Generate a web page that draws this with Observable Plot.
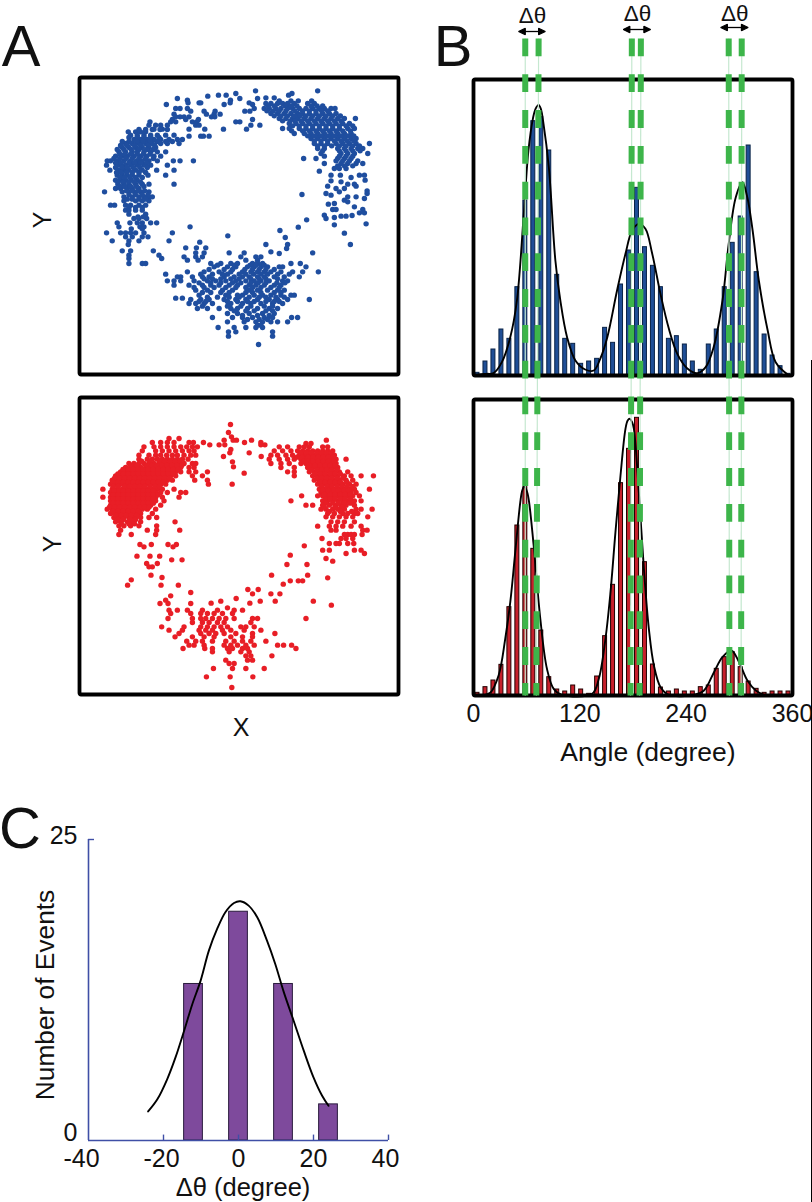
<!DOCTYPE html>
<html><head><meta charset="utf-8">
<script src="https://cdn.jsdelivr.net/npm/d3@7"></script>
<script src="https://cdn.jsdelivr.net/npm/@observablehq/plot@0.6"></script>
<style>
html,body{margin:0;padding:0;background:#fff;}
#page{position:relative;width:812px;height:1202px;overflow:hidden;font-family:"Liberation Sans",Arial,sans-serif;color:#111;}
#page svg{position:absolute;overflow:visible;background:transparent;}
.lab{position:absolute;white-space:nowrap;line-height:1;transform:translate(-50%,-50%);}
</style></head><body><div id="page"></div>
<script>
// ---------- Panel A: scatter rows, each [y, [x, x, ...]] in arbitrary image units
const blueArcSparse = [[92,[584,770]],[100,[525,693]],[105,[473,496,683]],[108,[441]],[115,[350,537,590]],[120,[380,509]],[128,[382,415,420,508,565]],[133,[317,490,575]],[145,[345,358,380,580]],[153,[390,430,463,552,567]],[162,[340,437,460,478]],[170,[345,385,358,452,462,370]],[178,[335,375,413,575]],[185,[268,330,345,395,408,525,537]],[195,[265,285,300,320,405,415,597,570]],[207,[280,305,385,432,488,557]],[228,[420,428,445,385]]];
const blueLeft = [[215,[203,225,240,255]],[225,[210,230,250,270,290,315,340]],[238,[220,240,260,280,300,325,350,365]],[250,[195,215,235,255,275,300,320,355]],[262,[185,205,225,245,265,285]],[275,[175,195,215,230,250,270,290,315]],[288,[165,185,200,220,240,258,280,300]],[302,[140,150,170,190,210,228,245,265,290,338,358,398]],[315,[138,175,195,212,230,250,270,320]],[330,[148,175,190,205,225,245,288,340]],[345,[170,185,200,215,235,262,315]],[360,[165,180,195,212,230]],[372,[172,190,205,225,245,265,340]],[385,[165,180,200,215,235]],[395,[132,185,205,222,240,265]],[410,[190,215,235,250,265,275]],[422,[190,225,245,265]],[435,[150,162,195,210,235,255]],[450,[195,205,225,245]],[462,[205,255]],[475,[220,235,258]],[488,[170,208,230,245,270,288]],[500,[175,238,250,388]],[518,[138,180,195,210,225,250,335]],[530,[195,215,245,262]],[542,[155,205,235,325]],[553,[203]],[572,[185,210,278]],[585,[205,295]],[595,[205,303]],[610,[205,245,255]]];
const blueLeftFill = [[208,[235,255,275,298,320]],[232,[205,230,250,270,295]],[244,[185,205,228,248,268,290,315,335]],[256,[180,200,222,240,262,282]],[268,[170,190,212,235,258,278]],[282,[178,192,210,230,248,268]],[295,[160,178,197,215,235,255,278]],[308,[165,182,205,222,240,258]],[322,[165,185,200,218,238,260]],[337,[168,182,198,215,235,255]],[352,[178,192,208,225,245]],[366,[172,188,205,222,240]],[379,[178,192,210,228,250]],[392,[198,215,232,252]],[404,[205,225,245,262]],[417,[200,215,235,255]],[442,[205,225,245]],[470,[232,248]],[506,[212,245]]];
const blueRight = [[113,[615,640]],[122,[655,690,712,752]],[130,[615,630,650,665,680,700,740,760]],[145,[610,625,645,660,680,695,715,735,755,775,790,810,822]],[160,[630,650,670,690,710,725,745,765,785,805,825]],[175,[655,675,695,710,730,750,770,790,810,830,850,883]],[190,[685,705,725,745,765,785,805,825,845,865]],[205,[665,685,715,735,755,775,795,815,835,860,880]],[220,[700,730,750,770,790,810,830,850,870]],[235,[750,770,790,810,830,850,870,885]],[250,[760,780,800,825,845,865,885,925]],[265,[770,790,830,850,870,890,905]],[280,[780,840,860,880,920]],[295,[728,765,830,850,870]],[310,[790,840,860,885,905]],[325,[820,835,855]],[333,[775]]];
const blueRightLower = [[345,[810,838,895,910]],[352,[870]],[360,[912]],[362,[810]],[365,[840]],[372,[860,880]],[378,[800,885]],[385,[825,850]],[392,[918]],[395,[835]],[400,[795,918]],[403,[723]],[405,[810]],[410,[860,885]],[415,[910]],[420,[850]],[425,[860]],[430,[820]],[432,[802]],[440,[880]],[448,[815,825,905]],[458,[895,910]],[465,[790]],[466,[873]],[468,[840,855]],[472,[820]],[475,[795]],[479,[737]],[491,[915]],[494,[820]],[501,[712]],[511,[657]],[519,[850]],[532,[673]],[553,[615,680,868]],[565,[677]],[575,[630]],[578,[755]],[580,[655]]];
const blueRightFill = [[137,[622,640,672,692,708,750,768,785]],[152,[618,637,655,675,702,725,745,765,782,800]],[167,[640,660,680,700,717,735,755,775,795,815,838]],[182,[665,688,702,720,740,760,780,800,820,840]],[197,[695,715,735,755,775,795,815,835,855,875]],[212,[692,725,745,765,785,805,825,845,868]],[227,[740,760,780,800,820,840,860,878]],[242,[760,780,800,820,840,858,878]],[257,[770,790,812,835,855,875,895]],[272,[785,835,855,875,897]],[288,[790,835,855,875]],[302,[825,845,865,890]],[317,[830,850,875]]];
const blueBottom = [[527,[501]],[546,[417]],[563,[375,407,435]],[578,[405,430,505,550]],[590,[370,405,425,540,585,600]],[600,[380,412,555,590]],[610,[450,480,510,530,575,590,605,690,718]],[620,[460,500,525,560,580,600,620,655,665,735]],[635,[380,430,475,510,545,570,590,610,630,660,695,725,772]],[642,[315]],[650,[350,360,395,425,445,490,520,545,565,590,610,640,670,715]],[662,[320,340,360,400,440,465,495,525,555,580,600,625,665,680]],[675,[340,385,425,450,475,505,530,565,585,610,640,660]],[690,[405,440,485,515,565,590,620,650,670]],[705,[415,495,530,545,580,605,630,660,690,700]],[714,[345,365]],[718,[390,420,445,490,525,555,590,625,650,680,745]],[730,[385,405,430,455,510,545,570,600,635,665]],[745,[410,440,475,510,530,560,590,625,650]],[760,[500,530,565,605,640]],[772,[455,515,545,575,610,635,692,710]],[785,[500,550,585,605,630,650,680]],[802,[472,520,555,585,605]],[815,[503,525,635]],[828,[503,635]],[853,[593]]];
const blueBottomFill = [[615,[470,520,568,585,610]],[628,[445,490,515,552,575,595,615,640]],[642,[420,455,485,500,535,555,578,600,620,650,685]],[656,[430,455,480,510,535,570,595,615,650]],[668,[415,450,480,515,540,570,592,615,648,672]],[682,[400,430,460,495,525,555,575,600,630,655]],[697,[425,450,480,505,555,575,600,640,660]],[711,[440,470,505,535,565,595,615,645,670]],[724,[415,435,500,530,560,580,615,640,655]],[738,[425,500,540,570,610,635]],[752,[520,555,580,615,635]],[766,[545,590,625]],[778,[560,595,620]],[795,[590,600]]];

const redLeft = [[160,[325,355]],[172,[275,300,320,340,385,398]],[185,[250,280,300,320,340,360,378,395,410]],[197,[245,285,305,325,345,365,385,400]],[210,[235,265,285,300,318,335,350,370,390,405]],[222,[235,260,275,290,305,320,335,350,365,382]],[235,[205,220,235,250,265,280,295,310,325,340,355,370,395,405]],[247,[195,210,225,240,255,270,285,300,315,330,345,360,385,400]],[260,[180,195,210,225,240,255,270,285,300,315,330,345,360,385,405,440]],[272,[165,180,195,210,225,240,255,270,285,300,315,330,345,395,425]],[285,[155,170,185,200,215,230,245,260,275,290,305,320,335,402,440]],[297,[150,165,180,195,210,225,240,255,270,285,300,315,443]],[312,[127,155,170,185,200,215,230,245,260,275,290,305,340]],[322,[150,165,180,195,210,225,240,255,270,285,300,320,360,375]],[336,[127,150,165,180,195,210,225,240,255,270,285,305,355]],[347,[150,165,180,195,210,225,240,255,270,285,310]],[360,[150,165,180,195,210,225,240,255,270,300]],[372,[140,155,170,185,200,215,230,245,260,285]],[385,[150,165,180,195,210,225,240,275]],[397,[160,175,190,205,220,240,265,288]],[410,[165,180,200,215,240,343]],[422,[175,190,210,235,288]],[435,[180,260,288,357]],[448,[175,212,285]]];
const redLeftFill = [[228,[243,268,297,312,328,343,358]],[241,[212,228,258,273,288,303,318,333,348,363]],[253,[187,203,218,233,247,262,277,293,308,322,338,352]],[266,[172,188,203,218,232,247,263,278,292,308,322,338]],[279,[162,177,192,207,222,237,252,267,282,297,312,327]],[291,[158,173,188,203,218,233,248,263,278,293,308]],[304,[158,173,192,207,222,237,252,268,283,297]],[317,[160,175,188,203,218,233,248,262,278]],[329,[157,172,187,202,217,232,247,262,278,292]],[341,[157,172,187,202,218,232,247,262,278]],[354,[157,172,188,203,217,232,247,263,278]],[366,[147,162,177,192,208,222,238,252,265]],[379,[158,172,187,203,218,233]],[391,[167,182,197,212,228]],[403,[172,188,208,225]],[416,[183,205,222]]];
const redTop = [[118,[509]],[142,[503]],[155,[512]],[165,[490,517,527,572]],[172,[428,551,600]],[179,[447,475,492,600,612]],[193,[510]],[203,[507,565]],[214,[488,601]],[230,[515]],[245,[518]],[264,[550]],[297,[514]]];
const redRight = [[165,[796]],[175,[735,750]],[185,[655,680,715,730,745,785,800]],[197,[640,665,690,710,725,740,755,770,785,800,815]],[210,[630,650,675,695,715,730,745,760,775,790,805,820]],[222,[625,655,680,700,720,735,750,765,780,795,810,825,855]],[235,[630,660,685,720,735,750,765,780,795,810,825]],[247,[660,700,740,755,770,785,800,815,830]],[260,[680,700,745,760,775,790,805,820,835,860]],[272,[700,755,770,785,800,815,830,850,870,900,937]],[285,[760,775,790,805,820,835,855,875]],[297,[770,785,800,815,830,845,865,885]],[312,[775,790,805,820,835,850,865,880,925]],[322,[780,795,810,825,840,855,870,885]],[332,[722,770,785,800,815,830,845,860,875,895]],[347,[690,785,800,815,830,845,860,880,900]],[360,[735,755,785,805,825,840,855,880]],[372,[780,795,815,830,850,885,900,933]],[385,[800,820,845,860,880,890]],[395,[795,815,835,855,875,920]],[410,[810,830,850,880]],[423,[770,805,825,845,870,900]],[435,[810,825,905,918]],[448,[850,860,870,880,903]],[460,[783,840,855,875]],[475,[805,825,835,860,878]],[482,[730]],[495,[785,805,880,900]],[505,[855,910]],[510,[688]],[520,[795]],[528,[815]]];
const redRightFill = [[204,[720,737,752,768,782,797,812]],[216,[708,723,742,757,772,787,802,817]],[229,[728,742,757,772,787,802,818]],[241,[745,762,778,793,808,822]],[254,[752,768,782,797,812,828]],[266,[762,778,792,808,822,838]],[279,[768,782,797,812,828,845]],[291,[778,792,808,822,838,858]],[304,[782,798,812,828,843,858,875]],[316,[785,802,818,832,848,862]],[328,[790,808,822,838,852,868]],[341,[793,808,822,838,852,868]],[354,[795,815,832,848,868]],[366,[790,822,842]],[379,[805,838,872]]];
const redLowerSparse = [[478,[238,272,322,347]],[485,[250,337]],[513,[229,268,297]],[524,[333,364]],[535,[258,290]],[545,[265,275]],[570,[271]],[577,[304]],[584,[212]],[600,[201,301,353]],[622,[390]],[632,[330]],[645,[315]],[655,[298,322,390]],[538,[678,738]],[570,[740,632]],[578,[800]],[587,[725,712,688]],[597,[667]],[613,[561,592]],[626,[630,657,575]],[640,[526]],[648,[480,598,643,757]],[654,[451,567]],[660,[811]],[700,[735]]];
const redBottom = [[668,[500]],[675,[325,350,380,425,470,520,545]],[685,[330,390,420,440,460,485,515]],[700,[322,395,420,435,455,475,495,520,575,590]],[712,[395,425,445,470,490,570]],[725,[303,370,420,440,460,480,500,540,555,580]],[735,[325,365,415,435,455,485,510,550,600]],[745,[355,420,445,465,490,525,575,642]],[755,[343,395,430,460,510,545,575]],[768,[378,405,425,455,495,520,545,570,615]],[780,[385,400,430,490,510,530,555,580,650,668,692]],[790,[367,432,455,500,515,545,560,705]],[800,[455,505,540,565]],[812,[555,570,633]],[825,[495,560,575]],[835,[505,520]],[850,[458,515,555,610]],[875,[437,508,576]],[907,[513]]];

// ---------- Panel B: histogram values
const binStart = [0,9,18,27,36,45,54,63,72,81,90,99,108,117,126,135,144,153,162,171,180,189,198,207,216,225,234,243,252,261,270,279,288,297,306,315,324,333,342,351];
const blueCounts = [8,42,78,138,110,265,525,763,775,675,302,110,95,35,42,50,143,98,273,375,563,385,329,265,110,118,93,42,17,93,138,265,398,477,690,310,123,60,28,5];
const redCounts = [8,25,45,92,265,510,625,440,195,55,18,12,30,18,5,57,178,332,637,740,833,400,93,24,12,18,12,12,25,30,80,115,130,85,42,20,8,12,12,12];
const blueFitAngle = [0,7.5,15,22.6,32,41.5,49,56.5,62,67,70,73.5,76,79,85,92.4,98,105.6,115,126,135.7,143,151,162,171.5,179,186.6,194,201.7,211,220.5,230,241,252.6,262,271,281,288,296,303.5,309,315,322,332,341,356];
const blueFitValue = [0,3,5,7,40,115,225,475,675,770,800,812,800,755,625,345,225,115,45,18,15,50,115,255,365,435,455,440,365,245,140,65,22,7,25,85,225,395,535,580,535,435,285,135,40,0];
const redFitAngle = [0,9.4,18.9,28.3,35.8,41.5,47.1,52.8,55,57.3,60,62.2,67.9,75.4,82.9,90.5,99.9,133.8,141.4,148.9,154.6,160.2,165.9,171.5,174,176.4,179,181,186.6,192.3,197.9,203.6,211.1,220.5,248.8,260.1,271.4,280.9,291,299.7,309.1,318.6,328,356];
const redFitValue = [0,0,8,60,170,280,430,580,615,627,615,590,450,230,80,20,2,5,50,170,310,490,660,800,825,830,820,800,610,380,200,90,25,2,2,15,70,115,135,100,45,15,2,0];
const gapTopA = [58.4,178.7,288], gapTopB = [73.5,188.9,302.7], gapEndA = [58.4,177.2,288.8], gapEndB = [70.9,187.4,302];
const gapSpanY = [38,695];
const gapLabel = ["Δθ","Δθ","Δθ"], gapLabelAngle = [66.7,185,294.8], gapLabelY = [15,13,13];
const arrowFrom = [55.4,173.4,283.5], arrowTo = [76.5,195.3,305.4], arrowY = [31,29,27];
const angleTicks = [0,120,240,360];

// ---------- Panel C: Δθ histogram
const deltaBins = [-12,0,12,24];
const deltaCounts = [13,19,13,3];
const deltaFitX = [-24.1,-21.6,-19,-16.8,-14.5,-12.3,-10.1,-7.9,-5.7,-3.5,-1.2,0.5,2.7,5,7.6,9.8,12.1,14.7,17.4,20,22.3,24];
const deltaFitY = [2.41,3.44,5.1,6.9,9.12,11.34,13.28,15.77,17.57,18.96,19.73,19.87,19.51,18.54,16.6,14.66,12.3,9.95,7.46,5.24,3.71,2.88];
const deltaTicksX = [-40,-20,0,20,40];

// ---------- colours
const blue="#1F4E9F", red="#E81E26", blueBar="#1F4E96", redBar="#C7202C", green="#3DB54A", paleGreen="#C5E8D0", purple="#7E4A9C", axisBlue="#3F4FA6";
const font = '"Liberation Sans",Arial,sans-serif';

const page = document.getElementById("page");
const flat = rows => rows.flatMap(([y,xs]) => xs.map(x => ({x,y})));
function place(svg, left, top){ svg.style.left=left+"px"; svg.style.top=top+"px"; page.appendChild(svg); }
function label(text,x,y,size,rot){ const d=document.createElement("div"); d.className="lab"; d.textContent=text; d.style.left=x+"px"; d.style.top=y+"px"; d.style.fontSize=size+"px"; if(rot) d.style.transform="translate(-50%,-50%) rotate("+rot+"deg)"; page.appendChild(d); }
const solidArrow = (color) => { const m=d3.create("svg:marker").attr("viewBox","-5 -5 10 10").attr("markerWidth",9).attr("markerHeight",9).attr("markerUnits","userSpaceOnUse").attr("orient","auto-start-reverse"); m.append("path").attr("d","M-3,-3.6L4.5,0L-3,3.6z").attr("fill",color); return m.node(); };

function scatter(data,color,yDomain,h){
  return Plot.plot({width:319,height:h,margin:0,x:{domain:[57,1012],axis:null},y:{domain:yDomain,axis:null},
    marks:[Plot.dot(data,{x:"x",y:"y",r:2.7,fill:color}),Plot.frame({stroke:"#000",strokeWidth:3.8,rx:1.5})]});
}
place(scatter(flat([...blueArcSparse,...blueLeft,...blueLeftFill,...blueRight,...blueRightLower,...blueRightFill,...blueBottom,...blueBottomFill]),blue,[943,52],297),79,77);
place(scatter(flat([...redLeft,...redLeftFill,...redTop,...redRight,...redRightFill,...redLowerSparse,...redBottom]),red,[928,37],297),79,397);

place(Plot.plot({width:319,height:296,margin:0,x:{domain:[0,360],axis:null},y:{domain:[0,888],axis:null},
  marks:[
    Plot.rectY(binStart,{x1:d=>d,x2:d=>d+9,y:(d,i)=>blueCounts[i],fill:blueBar,stroke:"#0A2347",strokeWidth:1,insetLeft:2,insetRight:2}),
    Plot.line(blueFitAngle.map((a,i)=>({a,v:blueFitValue[i]})),{x:"a",y:"v",curve:"catmull-rom",stroke:"#000",strokeWidth:1.9}),
    Plot.frame({stroke:"#000",strokeWidth:3.8,rx:1.5})
  ]}),473,79);
place(Plot.plot({width:319,height:366,marginTop:0,marginLeft:0,marginRight:0,marginBottom:70,
  x:{domain:[0,360]},y:{domain:[0,888],axis:null},
  marks:[
    Plot.rectY(binStart,{x1:d=>d,x2:d=>d+9,y:(d,i)=>redCounts[i],fill:redBar,stroke:"#200",strokeWidth:1,insetLeft:2,insetRight:2}),
    Plot.line(redFitAngle.map((a,i)=>({a,v:redFitValue[i]})),{x:"a",y:"v",curve:"catmull-rom",stroke:"#000",strokeWidth:1.9}),
    Plot.axisX({ticks:angleTicks,tickFormat:d=>d,tickSize:0,tickPadding:9,fontSize:25,fontFamily:font,fill:"#111",label:null}),
    Plot.frame({stroke:"#000",strokeWidth:3.8,rx:1.5})
  ]}),473,399);
label("Angle (degree)",648,752,26.5);

// green Δθ guide lines drawn across both histograms
const gaps = gapTopA.flatMap((_,i)=>[{x1:gapTopA[i],x2:gapEndA[i]},{x1:gapTopB[i],x2:gapEndB[i]}]);
const gapMarks = {y1:()=>gapSpanY[0],y2:()=>gapSpanY[1],x1:"x1",x2:"x2"};
place(Plot.plot({width:319,height:800,margin:0,x:{domain:[0,360],axis:null},y:{domain:[0,800],range:[0,800],axis:null},
  marks:[
    Plot.link(gaps,{...gapMarks,stroke:paleGreen,strokeWidth:1.2}),
    Plot.link(gaps,{...gapMarks,stroke:green,strokeWidth:6,strokeDasharray:"17.8,18"}),
    Plot.link(arrowFrom,{x1:d=>d,x2:(d,i)=>arrowTo[i],y1:(d,i)=>arrowY[i],y2:(d,i)=>arrowY[i],stroke:"#000",strokeWidth:1.3,markerStart:solidArrow,markerEnd:solidArrow}),
    Plot.text(gapLabel,{x:(d,i)=>gapLabelAngle[i],y:(d,i)=>gapLabelY[i],text:d=>d,fontSize:22.5,fontFamily:font,fill:"#111"})
  ]}),473,0);

// Panel C
const tickStyle = {tickSize:0,fontSize:25,fontFamily:font,fill:"#111",label:null,tickFormat:d=>d};
place(Plot.plot({width:300,height:301,margin:0,
  x:{domain:[-40,40],label:null},y:{domain:[0,25],label:null},
  marks:[
    Plot.rectY(deltaBins,{x1:d=>d-2.5,x2:d=>d+2.5,y:(d,i)=>deltaCounts[i],fill:purple,stroke:"#2A1B3D",strokeWidth:1}),
    Plot.line(deltaFitX.map((x,i)=>({x,y:deltaFitY[i]})),{x:"x",y:"y",curve:"catmull-rom",stroke:"#000",strokeWidth:1.9}),
    Plot.ruleX([-40],{stroke:axisBlue,strokeWidth:1.6}),
    Plot.ruleY([0],{stroke:axisBlue,strokeWidth:1.6}),
    Plot.ruleX(deltaTicksX.slice(1),{y1:0,y2:0.45,stroke:axisBlue,strokeWidth:1.4}),
    Plot.ruleY([25],{x1:-40,x2:-38.4,stroke:axisBlue,strokeWidth:1.4}),
    Plot.axisX({...tickStyle,ticks:deltaTicksX.slice(0,1),tickPadding:9,dx:-7}),
    Plot.axisX({...tickStyle,ticks:deltaTicksX.slice(1,2),tickPadding:9,dx:-2}),
    Plot.axisX({...tickStyle,ticks:deltaTicksX.slice(2,4),tickPadding:9}),
    Plot.axisX({...tickStyle,ticks:deltaTicksX.slice(4),tickPadding:9,dx:-3}),
    Plot.axisY({...tickStyle,ticks:[25],tickPadding:11,dy:-4}),
    Plot.axisY({...tickStyle,ticks:[0],tickPadding:11,dy:-8})
  ]}),88,839);
label("Number of Events",45,995,26.3,-90);
label("Δθ (degree)",243,1188,25.5);

// panel letters & axis names
label("A",21,46,58); label("B",453,46,58); label("C",20,828,58);
label("Y",42,220,25,-90); label("Y",52,544,25,-90); label("X",241,727,25);

// thin scan-edge line at the right of the page
const edge=document.createElement("div"); edge.style.cssText="position:absolute;left:811px;top:360px;width:1px;bottom:0;background:#000"; page.appendChild(edge);
</script></body></html>
